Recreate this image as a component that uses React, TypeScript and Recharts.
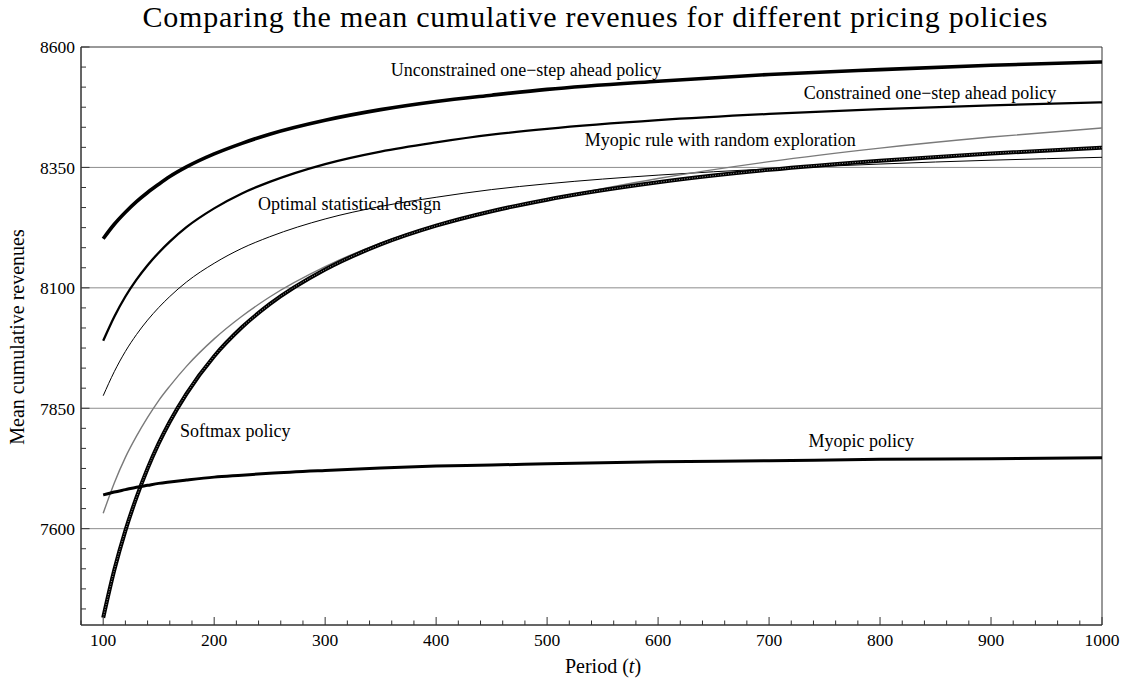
import React from 'react';
import { LineChart, Line, XAxis, YAxis, ReferenceLine, ReferenceArea, ReferenceDot } from 'recharts';

// period t at which the mean cumulative revenues were read
const periods = [100, 110, 120, 130, 140, 150, 160, 175, 200, 225, 250, 300, 350, 400, 450, 500, 600, 700, 800, 900, 1000];

const unconstrained = [8202, 8232, 8257, 8279, 8298, 8315, 8331, 8351, 8378, 8400, 8419, 8448, 8470, 8487, 8500, 8512, 8529, 8543, 8553, 8562, 8569];
const constrained = [7990, 8040, 8082, 8117, 8147, 8173, 8196, 8226, 8265, 8296, 8320, 8357, 8383, 8402, 8418, 8430, 8448, 8461, 8471, 8479, 8485];
const optimalDesign = [7876, 7926, 7968, 8003, 8033, 8059, 8082, 8112, 8151, 8182, 8206, 8243, 8269, 8288, 8304, 8316, 8334, 8347, 8357, 8365, 8371];
const myopicRandom = [7632, 7695, 7748, 7792, 7831, 7866, 7896, 7937, 7994, 8041, 8081, 8144, 8193, 8230, 8259, 8283, 8327, 8362, 8390, 8413, 8432];
const softmax = [7415, 7514, 7596, 7665, 7725, 7777, 7822, 7880, 7958, 8018, 8066, 8138, 8190, 8229, 8259, 8283, 8319, 8345, 8364, 8379, 8391];
const myopic = [7670, 7676, 7681, 7686, 7690, 7694, 7697, 7701, 7707, 7711, 7715, 7721, 7726, 7730, 7732, 7735, 7739, 7741, 7744, 7745, 7747];

const xMajorTicks = [100, 200, 300, 400, 500, 600, 700, 800, 900, 1000];
const yMajorTicks = [7600, 7850, 8100, 8350, 8600];
const gridValues = [7600, 7850, 8100, 8350];

// curve labels, placed in data coordinates
const annotations = [
  { text: 'Unconstrained one\u2212step ahead policy', t: 481, v: 8553 },
  { text: 'Constrained one\u2212step ahead policy', t: 845, v: 8505 },
  { text: 'Myopic rule with random exploration', t: 656, v: 8407 },
  { text: 'Optimal statistical design', t: 322, v: 8274 },
  { text: 'Softmax policy', t: 219, v: 7803 },
  { text: 'Myopic policy', t: 783, v: 7782 },
];

const SERIF = '"Liberation Serif", "Times New Roman", Times, serif';
const FRAME = '#333';

// minor ticks: every 20 on x, six steps per major interval on y
const xTicks: number[] = [];
for (let t = 80; t <= 1000; t += 20) xTicks.push(t);
const yTicks: number[] = [];
for (let k = 0; 8600 - (k * 250) / 6 > 7400; k++) yTicks.push(8600 - (k * 250) / 6);

const data = periods.map((t, i) => ({
  t,
  unconstrained: unconstrained[i],
  constrained: constrained[i],
  optimalDesign: optimalDesign[i],
  myopicRandom: myopicRandom[i],
  softmax: softmax[i],
  myopic: myopic[i],
}));

// ticks point into the frame, labels only on the major ones
const renderXTick = (props: any) => {
  const { x, y, payload } = props;
  const major = xMajorTicks.includes(payload.value);
  return (
    <g key={`xt-${payload.value}`}>
      <line x1={x} x2={x} y1={y} y2={y - (major ? 8 : 4.5)} stroke={FRAME} strokeWidth={1} />
      {major && (
        <text x={x} y={y + 21} textAnchor="middle" fontFamily={SERIF} fontSize={17.5} fill="#000">
          {payload.value}
        </text>
      )}
    </g>
  );
};

const renderYTick = (props: any) => {
  const { x, y, payload } = props;
  const major = yMajorTicks.some((m) => Math.abs(m - payload.value) < 0.01);
  return (
    <g key={`yt-${payload.value}`}>
      <line x1={x} x2={x + (major ? 8.5 : 5)} y1={y} y2={y} stroke={FRAME} strokeWidth={1} />
      {major && (
        <text x={x - 6} y={y} dy="0.36em" textAnchor="end" fontFamily={SERIF} fontSize={17.5} fill="#000">
          {Math.round(payload.value)}
        </text>
      )}
    </g>
  );
};

export default function App() {
  return (
    <div style={{ position: 'absolute', left: 0, top: 0, width: 1128, height: 683, background: '#fff' }}>
      <LineChart width={1128} height={683} data={data} margin={{ top: 47, right: 26, left: 21, bottom: 0 }}>
        <XAxis
          dataKey="t"
          type="number"
          domain={[80, 1000]}
          ticks={xTicks}
          interval={0}
          height={58}
          tickSize={0}
          tickMargin={0}
          tickLine={false}
          tick={renderXTick}
          axisLine={{ stroke: FRAME }}
          allowDataOverflow
        />
        <YAxis
          type="number"
          domain={[7400, 8600]}
          ticks={yTicks}
          interval={0}
          width={60}
          tickSize={0}
          tickMargin={0}
          tickLine={false}
          tick={renderYTick}
          axisLine={{ stroke: FRAME }}
          allowDataOverflow
        />
        {gridValues.map((v) => (
          <ReferenceLine key={v} y={v} stroke="#8c8c8c" strokeWidth={1} />
        ))}
        <ReferenceArea x1={80} x2={1000} y1={7400} y2={8600} fill="none" stroke={FRAME} strokeWidth={1} />

        <Line dataKey="optimalDesign" type="monotone" stroke="#000" strokeWidth={1} dot={false} isAnimationActive={false} />
        <Line dataKey="myopicRandom" type="monotone" stroke="#7a7a7a" strokeWidth={1.4} dot={false} isAnimationActive={false} />
        <Line dataKey="softmax" type="monotone" stroke="#000" strokeWidth={4} dot={false} isAnimationActive={false} />
        <Line dataKey="softmax" type="monotone" stroke="#fff" strokeOpacity={0.6} strokeWidth={1} strokeDasharray="1 1.6" dot={false} isAnimationActive={false} />
        <Line dataKey="myopic" type="monotone" stroke="#000" strokeWidth={3} dot={false} isAnimationActive={false} />
        <Line dataKey="constrained" type="monotone" stroke="#000" strokeWidth={2.3} dot={false} isAnimationActive={false} />
        <Line dataKey="unconstrained" type="monotone" stroke="#000" strokeWidth={3.6} dot={false} isAnimationActive={false} />

        {annotations.map((a) => (
          <ReferenceDot
            key={a.text}
            x={a.t}
            y={a.v}
            r={0}
            fill="none"
            stroke="none"
            label={{ value: a.text, position: 'center', fontFamily: SERIF, fontSize: 18, fill: '#000' }}
          />
        ))}
      </LineChart>
      <svg width={1128} height={683} style={{ position: 'absolute', left: 0, top: 0, pointerEvents: 'none' }}>
        <text
          x={595}
          y={27}
          textAnchor="middle"
          textLength={905}
          lengthAdjust="spacing"
          fontFamily={SERIF}
          fontSize={30}
          fill="#000"
        >
          Comparing the mean cumulative revenues for different pricing policies
        </text>
        <text
          x={0}
          y={0}
          transform="translate(24 337) rotate(-90)"
          textAnchor="middle"
          fontFamily={SERIF}
          fontSize={20}
          fill="#000"
        >
          Mean cumulative revenues
        </text>
        <text x={603} y={673} textAnchor="middle" fontFamily={SERIF} fontSize={20} fill="#000">
          Period (<tspan fontStyle="italic">t</tspan>)
        </text>
      </svg>
    </div>
  );
}
